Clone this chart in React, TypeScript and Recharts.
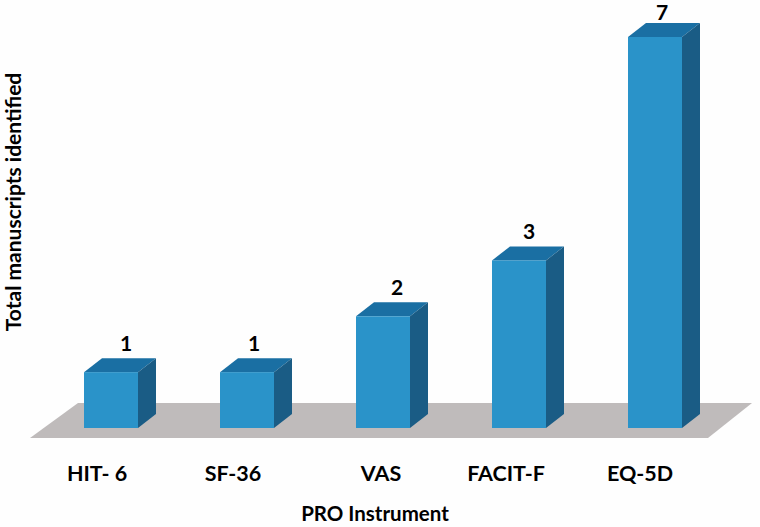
import { BarChart, Bar, XAxis, YAxis, ReferenceArea, LabelList } from "recharts";

const instruments = ["HIT- 6", "SF-36", "VAS", "FACIT-F", "EQ-5D"];
const manuscripts = [1, 1, 2, 3, 7];
const chartData = instruments.map((name, i) => ({ name, total: manuscripts[i] }));

// hand nudges, the labels in the source are not centred on the bars
const TICK_NUDGE = [-14, -14, -2, -13, -15];
const LABEL_NUDGE_X = [15, 7, 14, 10, 7];
const LABEL_NUDGE_Y = [0, 0, 0, 0, 4];

const FONT = "Lato, 'Open Sans', sans-serif";
const DEPTH_X = 18;
const DEPTH_Y = 14;

function Box3D({ x, y, width, height }: any) {
  const r = x + width;
  const b = y + height;
  return (
    <g>
      <polygon
        points={`${x},${y} ${x + DEPTH_X},${y - DEPTH_Y} ${r + DEPTH_X},${y - DEPTH_Y} ${r},${y}`}
        fill="#1a6fa3"
      />
      <polygon
        points={`${r},${y} ${r + DEPTH_X},${y - DEPTH_Y} ${r + DEPTH_X},${b - DEPTH_Y} ${r},${b}`}
        fill="#1a5c85"
      />
      <rect x={x} y={y} width={width} height={height} fill="#2a93c9" />
    </g>
  );
}

function Floor({ x, y, width, height }: any) {
  const b = y + height;
  return (
    <polygon
      points={`${x - 13},${b} ${x + 35},${y} ${x + width + 29},${y} ${x + width - 15},${b}`}
      fill="#bfbbbb"
    />
  );
}

function InstrumentTick({ x, y, index, payload }: any) {
  return (
    <text
      x={x + TICK_NUDGE[index]}
      y={y + 2}
      textAnchor="middle"
      fontFamily={FONT}
      fontWeight={700}
      fontSize={21.5}
      fill="#000"
    >
      {payload.value}
    </text>
  );
}

function CountLabel({ x, y, width, value, index }: any) {
  return (
    <text
      x={x + width / 2 + LABEL_NUDGE_X[index]}
      y={y - 21 + LABEL_NUDGE_Y[index]}
      textAnchor="middle"
      fontFamily={FONT}
      fontWeight={700}
      fontSize={21}
      fill="#000"
    >
      {value}
    </text>
  );
}

export default function App() {
  return (
    <div style={{ position: "absolute", left: 0, top: 0, width: 760, height: 527, background: "#fefefe" }}>
      <BarChart
        width={760}
        height={527}
        data={chartData}
        margin={{ top: 37, right: 37, bottom: 39, left: 43 }}
      >
        <XAxis
          dataKey="name"
          axisLine={false}
          tickLine={false}
          height={60}
          interval={0}
          tick={<InstrumentTick />}
          tickMargin={45}
        />
        <YAxis hide domain={[0, 7]} />
        <ReferenceArea y1={-0.18} y2={0.4475} ifOverflow="visible" shape={<Floor />} />
        <Bar dataKey="total" barSize={54} isAnimationActive={false} shape={<Box3D />}>
          <LabelList dataKey="total" content={<CountLabel />} />
        </Bar>
        <text
          x={375}
          y={521}
          textAnchor="middle"
          fontFamily={FONT}
          fontWeight={700}
          fontSize={20.5}
          fill="#000"
        >
          PRO Instrument
        </text>
        <text
          transform="translate(21,202) rotate(-90)"
          textAnchor="middle"
          fontFamily={FONT}
          fontWeight={700}
          fontSize={21}
          fill="#000"
        >
          Total manuscripts identified
        </text>
      </BarChart>
    </div>
  );
}
